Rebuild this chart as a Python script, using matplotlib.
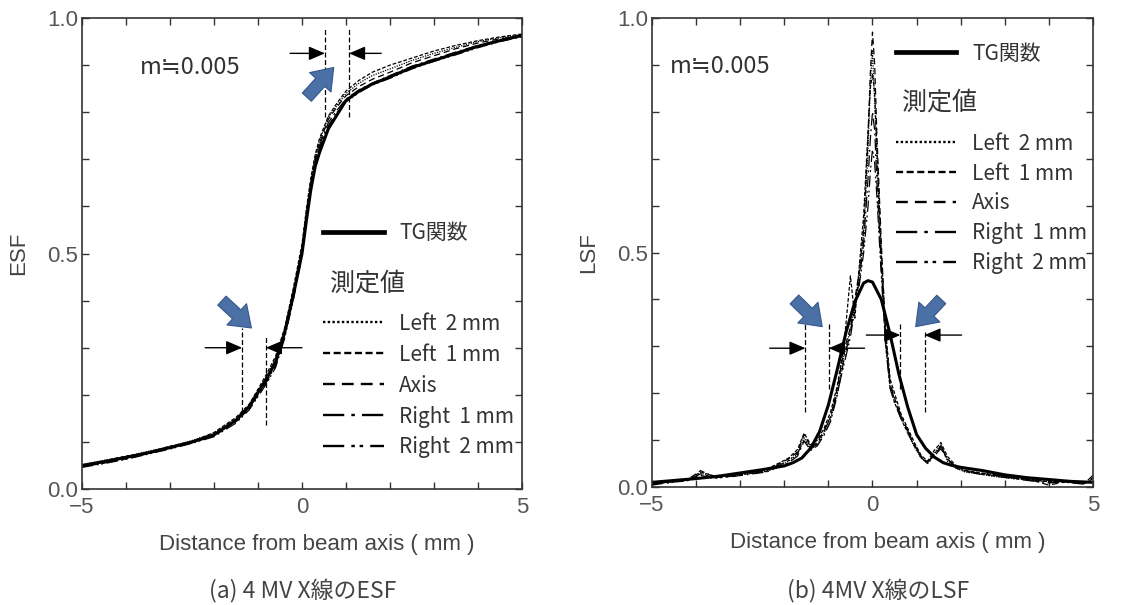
import numpy as np
import matplotlib
matplotlib.use("Agg")
from matplotlib import pyplot as plt
from matplotlib.ticker import MultipleLocator, FuncFormatter

plt.rcParams['font.family'] = ['Liberation Sans', 'DejaVu Sans']
JP = ['Noto Sans CJK JP', 'DejaVu Sans']

# ---- ESF data ----
esf_x = [-5, -4.5, -4, -3.5, -3, -2.5, -2, -1.5, -1.2, -1, -0.8, -0.6, -0.4, -0.2, 0,
         0.1, 0.2, 0.3, 0.4, 0.6, 0.8, 1.0, 1.3, 1.6, 2, 2.5, 3, 3.5, 4, 4.5, 5]
esf_tg = [0.050, 0.058, 0.067, 0.077, 0.088, 0.100, 0.115, 0.146, 0.175, 0.205, 0.235, 0.270,
          0.330, 0.410, 0.500, 0.570, 0.635, 0.685, 0.715, 0.765, 0.795, 0.825, 0.845, 0.860,
          0.875, 0.895, 0.910, 0.925, 0.940, 0.952, 0.963]
esf_left2 = [0.052, 0.061, 0.069, 0.080, 0.090, 0.103, 0.118, 0.150, 0.178, 0.208, 0.240, 0.278,
             0.335, 0.420, 0.515, 0.590, 0.655, 0.705, 0.740, 0.790, 0.815, 0.840, 0.862, 0.878,
             0.892, 0.910, 0.925, 0.938, 0.950, 0.958, 0.965]
esf_left1 = [0.049, 0.060, 0.070, 0.078, 0.091, 0.101, 0.120, 0.152, 0.180, 0.212, 0.245, 0.282,
             0.340, 0.425, 0.520, 0.595, 0.660, 0.710, 0.745, 0.792, 0.820, 0.845, 0.868, 0.885,
             0.900, 0.915, 0.930, 0.942, 0.952, 0.960, 0.966]
esf_axis = [0.047, 0.055, 0.064, 0.075, 0.086, 0.098, 0.113, 0.143, 0.170, 0.200, 0.232, 0.268,
            0.328, 0.415, 0.510, 0.585, 0.650, 0.700, 0.735, 0.785, 0.812, 0.835, 0.855, 0.870,
            0.885, 0.905, 0.920, 0.935, 0.947, 0.956, 0.962]
esf_right1 = [0.048, 0.056, 0.066, 0.076, 0.087, 0.099, 0.114, 0.144, 0.172, 0.200, 0.228, 0.262,
              0.322, 0.405, 0.500, 0.575, 0.645, 0.695, 0.730, 0.778, 0.805, 0.828, 0.848, 0.862,
              0.878, 0.898, 0.913, 0.928, 0.942, 0.953, 0.962]
esf_right2 = [0.046, 0.054, 0.063, 0.074, 0.085, 0.097, 0.111, 0.140, 0.168, 0.196, 0.225, 0.258,
              0.318, 0.400, 0.495, 0.570, 0.640, 0.690, 0.725, 0.772, 0.800, 0.822, 0.842, 0.858,
              0.872, 0.892, 0.908, 0.922, 0.937, 0.950, 0.960]

# ---- LSF data ----
lsf_tg_x = [-5, -4.5, -4, -3.5, -3, -2.5, -2, -1.8, -1.6, -1.4, -1.2, -1.0, -0.8, -0.6, -0.4,
            -0.2, -0.1, 0, 0.2, 0.4, 0.6, 0.8, 1.0, 1.2, 1.4, 1.6, 1.8, 2, 2.5, 3, 3.5, 4, 4.5, 5]
lsf_tg = [0.010, 0.014, 0.018, 0.023, 0.030, 0.037, 0.045, 0.052, 0.062, 0.083, 0.118, 0.175,
          0.250, 0.330, 0.395, 0.435, 0.440, 0.437, 0.400, 0.325, 0.240, 0.170, 0.112, 0.083,
          0.064, 0.052, 0.046, 0.042, 0.035, 0.026, 0.020, 0.016, 0.012, 0.010]
lsf_x = [-5, -4.6, -4.2, -3.9, -3.6, -3.2, -2.8, -2.4, -2.1, -1.9, -1.7, -1.55, -1.4, -1.25,
         -1.1, -0.95, -0.8, -0.65, -0.5, -0.4, -0.3, -0.2, -0.1, -0.05, 0, 0.05, 0.1, 0.2, 0.3,
         0.4, 0.5, 0.65, 0.8, 0.95, 1.1, 1.25, 1.4, 1.55, 1.7, 1.9, 2.1, 2.4, 2.8, 3.2, 3.6, 4.0,
         4.4, 4.8, 5]
lsf_left2 = [0.008, 0.010, 0.016, 0.030, 0.020, 0.024, 0.028, 0.034, 0.045, 0.055,
             0.070, 0.105, 0.080, 0.090, 0.115, 0.145, 0.200, 0.280, 0.335, 0.390,
             0.450, 0.540, 0.720, 0.860, 0.930, 0.820, 0.700, 0.480, 0.300, 0.210,
             0.180, 0.145, 0.115, 0.085, 0.062, 0.052, 0.072, 0.090, 0.055, 0.040,
             0.032, 0.028, 0.022, 0.018, 0.014, 0.012, 0.010, 0.008, 0.012]
lsf_left1 = [0.006, 0.011, 0.014, 0.032, 0.024, 0.026, 0.031, 0.038, 0.052, 0.062,
             0.080, 0.115, 0.090, 0.100, 0.125, 0.160, 0.215, 0.300, 0.450, 0.360,
             0.470, 0.580, 0.760, 0.850, 0.880, 0.840, 0.720, 0.500, 0.330, 0.230,
             0.200, 0.155, 0.125, 0.095, 0.068, 0.055, 0.078, 0.095, 0.065, 0.045,
             0.036, 0.031, 0.026, 0.020, 0.016, 0.011, 0.013, 0.009, 0.015]
lsf_axis = [0.005, 0.012, 0.015, 0.035, 0.022, 0.025, 0.030, 0.035, 0.050, 0.060,
            0.075, 0.112, 0.085, 0.095, 0.120, 0.150, 0.210, 0.290, 0.340, 0.400,
            0.460, 0.550, 0.750, 0.880, 0.970, 0.900, 0.750, 0.520, 0.320, 0.220,
            0.190, 0.150, 0.120, 0.090, 0.065, 0.050, 0.070, 0.085, 0.060, 0.040,
            0.035, 0.030, 0.025, 0.020, 0.015, 0.004, 0.012, 0.008, 0.020]
lsf_right1 = [0.004, 0.010, 0.013, 0.028, 0.020, 0.022, 0.027, 0.032, 0.044, 0.052,
              0.066, 0.098, 0.078, 0.088, 0.110, 0.140, 0.195, 0.270, 0.330, 0.385,
              0.440, 0.520, 0.660, 0.740, 0.800, 0.760, 0.650, 0.470, 0.310, 0.220,
              0.185, 0.150, 0.120, 0.090, 0.066, 0.053, 0.070, 0.088, 0.060, 0.042,
              0.034, 0.029, 0.024, 0.019, 0.015, 0.010, 0.011, 0.007, 0.025]
lsf_right2 = [0.007, 0.009, 0.015, 0.025, 0.018, 0.023, 0.029, 0.033, 0.047, 0.057,
              0.072, 0.100, 0.082, 0.092, 0.118, 0.150, 0.200, 0.260, 0.320, 0.380,
              0.430, 0.500, 0.600, 0.670, 0.720, 0.690, 0.620, 0.450, 0.300, 0.210,
              0.180, 0.145, 0.115, 0.088, 0.063, 0.050, 0.066, 0.082, 0.058, 0.041,
              0.033, 0.028, 0.023, 0.018, 0.013, 0.009, 0.010, 0.006, 0.018]

labels = ['Left  2 mm', 'Left  1 mm', 'Axis', 'Right  1 mm', 'Right  2 mm']
styles = [(0, (1, 1)), (0, (3, 1.5)), (0, (5, 3)), (0, (9, 3, 1.5, 3)), (0, (9, 3, 1.5, 2, 1.5, 3))]

TXT = '#333333'
BLUE = '#4a70a6'


def setup_axes(ax, ylabel):
    ax.set_xlim(-5, 5)
    ax.set_ylim(0, 1)
    ax.xaxis.set_major_locator(MultipleLocator(1))
    ax.yaxis.set_major_locator(MultipleLocator(0.1))
    ax.xaxis.set_major_formatter(FuncFormatter(
        lambda v, p: ('%d' % round(v)).replace('-', '\u2212') if abs(v) % 5 < 1e-6 else ''))
    ax.yaxis.set_major_formatter(FuncFormatter(
        lambda v, p: '%.1f' % v if abs(v * 2 - round(v * 2)) < 1e-6 else ''))
    ax.tick_params(direction='in', length=5, width=1, top=True, right=True,
                   labelsize=16, labelcolor='#555555', color='#333333')
    ax.tick_params(axis='x', pad=6)
    ax.tick_params(axis='y', pad=3)
    for s in ax.spines.values():
        s.set_color('#333333')
        s.set_linewidth(1.2)
    ax.set_xlabel('Distance from beam axis ( mm )', fontsize=16, color='#444444', labelpad=11)
    ax.xaxis.label.set_x(0.534)
    ax.set_ylabel(ylabel, fontsize=16, color='#444444', labelpad=13)


def black_arrow(ax, tail, tip):
    ax.annotate('', xy=tip, xytext=tail,
                arrowprops=dict(arrowstyle='-|>,head_length=0.7,head_width=0.3',
                                color='black', lw=1.0, mutation_scale=14, shrinkA=0, shrinkB=0))


def blue_arrow(ax, tail, tip):
    ax.annotate('', xy=tip, xytext=tail,
                arrowprops=dict(arrowstyle='simple,head_length=0.9,head_width=1.3,tail_width=0.55',
                                fc=BLUE, ec='#35578a', lw=0.8, mutation_scale=16,
                                shrinkA=0, shrinkB=0))


def add_legends(ax, tg_line, meas_lines, tg_loc, meas_loc, spacing):
    common = dict(loc='upper left', frameon=False, handlelength=2.9, handletextpad=0.75,
                  borderpad=0, borderaxespad=0, prop={'family': JP, 'size': 15})
    leg1 = ax.legend([tg_line], ['TG関数'], bbox_to_anchor=tg_loc, **common)
    for t in leg1.get_texts():
        t.set_color(TXT)
    leg1.get_lines()[0].set_linewidth(3.4)
    ax.add_artist(leg1)
    leg2 = ax.legend(meas_lines, labels, bbox_to_anchor=meas_loc, labelspacing=spacing, **common)
    for t in leg2.get_texts():
        t.set_color(TXT)
    for l in leg2.get_lines():
        l.set_linewidth(1.7)


fig = plt.figure(figsize=(11.42, 6.05), dpi=100)
ax1 = fig.add_axes([0.0718, 0.1917, 0.3853, 0.7785])
ax2 = fig.add_axes([0.5709, 0.1950, 0.3862, 0.7752])

# ---- (a) ESF ----
meas1 = []
for ys, ls in zip([esf_left2, esf_left1, esf_axis, esf_right1, esf_right2], styles):
    ln, = ax1.plot(esf_x, ys, color='black', lw=0.9, ls=ls)
    meas1.append(ln)
tg1, = ax1.plot(esf_x, esf_tg, color='black', lw=2.2)
setup_axes(ax1, 'ESF')
ax1.text(-3.68, 0.896, 'm≒0.005', fontsize=17, color=TXT, family=JP, va='center')
for xv, y0, y1 in [(0.52, 0.79, 0.98), (1.07, 0.79, 0.98), (-1.36, 0.163, 0.342), (-0.82, 0.136, 0.327)]:
    ax1.plot([xv, xv], [y0, y1], color='black', lw=0.9, ls=(0, (4, 2)))
black_arrow(ax1, (-0.27, 0.925), (0.52, 0.925))
black_arrow(ax1, (1.8, 0.925), (1.07, 0.925))
black_arrow(ax1, (-2.2, 0.30), (-1.36, 0.30))
black_arrow(ax1, (0.0, 0.30), (-0.82, 0.30))
blue_arrow(ax1, (0.11, 0.832), (0.72, 0.895))
blue_arrow(ax1, (-1.82, 0.40), (-1.15, 0.342))
ax1.text(0.64, 0.437, '測定値', fontsize=18, color=TXT, family=JP, va='center')
add_legends(ax1, tg1, meas1, (0.548, 0.566), (0.548, 0.3745), 0.43)

# ---- (b) LSF ----
meas2 = []
for ys, ls in zip([lsf_left2, lsf_left1, lsf_axis, lsf_right1, lsf_right2], styles):
    ln, = ax2.plot(lsf_x, ys, color='black', lw=0.9, ls=ls)
    meas2.append(ln)
tg2, = ax2.plot(lsf_tg_x, lsf_tg, color='black', lw=2.2)
setup_axes(ax2, 'LSF')
ax2.text(-4.6, 0.896, 'm≒0.005', fontsize=17, color=TXT, family=JP, va='center')
for xv, y0, y1 in [(-1.52, 0.16, 0.352), (-0.99, 0.21, 0.35), (0.63, 0.21, 0.352), (1.18, 0.16, 0.33)]:
    ax2.plot([xv, xv], [y0, y1], color='black', lw=0.9, ls=(0, (4, 2)))
black_arrow(ax2, (-2.33, 0.296), (-1.52, 0.296))
black_arrow(ax2, (-0.18, 0.296), (-0.99, 0.296))
black_arrow(ax2, (-0.14, 0.324), (0.63, 0.324))
black_arrow(ax2, (2.02, 0.324), (1.18, 0.324))
blue_arrow(ax2, (-1.77, 0.40), (-1.14, 0.342))
blue_arrow(ax2, (1.56, 0.40), (0.98, 0.342))
ax2.text(0.68, 0.82, '測定値', fontsize=18, color=TXT, family=JP, va='center')
add_legends(ax2, tg2, meas2, (0.553, 0.9475), (0.553, 0.7556), 0.38)

fig.text(303 / 1142, 1 - 590 / 605, '(a) 4 MV X線のESF', ha='center', va='center',
         fontsize=16.5, color='#444444', family=JP)
fig.text(878 / 1142, 1 - 590 / 605, '(b) 4MV X線のLSF', ha='center', va='center',
         fontsize=16.5, color='#444444', family=JP)

fig.savefig('out.png', dpi=100)
